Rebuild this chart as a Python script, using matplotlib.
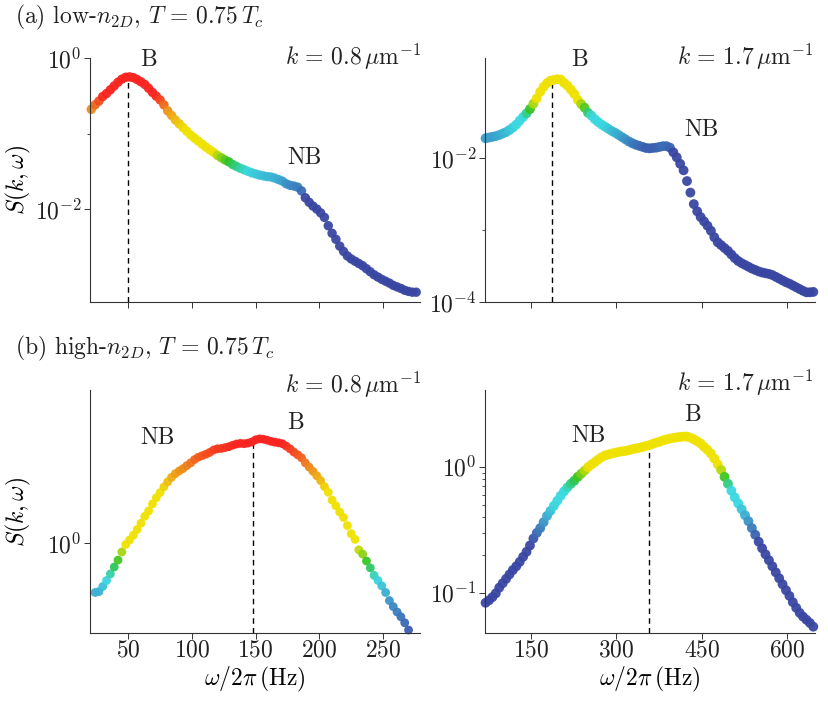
import numpy as np
import matplotlib
matplotlib.use('Agg')
import matplotlib.pyplot as plt
from matplotlib.colors import to_rgb
from matplotlib.ticker import FixedLocator, FixedFormatter, NullFormatter

plt.rcParams['font.family'] = 'serif'
plt.rcParams['font.serif'] = ['cmr10']
plt.rcParams['mathtext.fontset'] = 'cm'
plt.rcParams['axes.formatter.use_mathtext'] = True

# (a) low density, k = 0.8 um^-1 : frequency (Hz), log10 S(k, w)
A1_FREQ = [21, 24, 27, 30, 33, 36, 39, 42, 45, 48, 51, 54, 57, 60, 63, 66, 69, 72, 75, 78,
           81, 84, 87, 90, 93, 96, 99, 102, 105, 108, 111, 114, 117, 120, 123, 126, 129, 132,
           135, 138, 141, 144, 147, 150, 153, 156, 159, 162, 165, 168, 171, 174, 177, 180,
           183, 186, 189, 192, 195, 198, 201, 204, 207, 210, 213, 216, 219, 222, 225, 228,
           231, 234, 237, 240, 243, 246, 249, 252, 255, 258, 261, 264, 267, 270, 273, 276]
A1_LOGS = [-0.68, -0.62, -0.57, -0.51, -0.47, -0.42, -0.37, -0.32, -0.28, -0.255, -0.25,
           -0.26, -0.285, -0.315, -0.35, -0.40, -0.455, -0.505, -0.555, -0.62, -0.70, -0.76,
           -0.82, -0.87, -0.92, -0.97, -1.02, -1.06, -1.10, -1.14, -1.18, -1.215, -1.25,
           -1.29, -1.32, -1.35, -1.375, -1.41, -1.435, -1.46, -1.48, -1.50, -1.52, -1.535,
           -1.55, -1.56, -1.57, -1.575, -1.59, -1.61, -1.63, -1.665, -1.685, -1.695, -1.71,
           -1.76, -1.85, -1.91, -1.96, -2.00, -2.05, -2.11, -2.22, -2.32, -2.40, -2.49, -2.56,
           -2.62, -2.66, -2.69, -2.72, -2.75, -2.79, -2.83, -2.87, -2.90, -2.93, -2.955,
           -2.98, -3.01, -3.03, -3.05, -3.075, -3.09, -3.10, -3.10]

# (a) low density, k = 1.7 um^-1
A2_FREQ = [70, 76, 82, 88, 94, 100, 106, 112, 118, 124, 130, 136, 142, 148, 154, 160, 166,
           172, 178, 184, 190, 196, 202, 208, 214, 220, 226, 232, 238, 244, 250, 256, 262,
           268, 274, 280, 286, 292, 298, 304, 310, 316, 322, 328, 334, 340, 346, 352, 358,
           364, 370, 376, 382, 388, 394, 400, 406, 412, 418, 424, 430, 436, 442, 448, 454,
           460, 466, 472, 478, 484, 490, 496, 502, 508, 514, 520, 526, 532, 538, 544, 550,
           556, 562, 568, 574, 580, 586, 592, 598, 604, 610, 616, 622, 628, 634, 640, 646]
A2_LOGS = [-1.725, -1.715, -1.705, -1.695, -1.68, -1.66, -1.64, -1.61, -1.575, -1.535,
           -1.48, -1.43, -1.38, -1.32, -1.245, -1.17, -1.08, -1.01, -0.96, -0.925, -0.915,
           -0.905, -0.91, -0.955, -0.995, -1.05, -1.11, -1.19, -1.25, -1.30, -1.37, -1.41,
           -1.46, -1.50, -1.535, -1.565, -1.595, -1.625, -1.65, -1.68, -1.71, -1.74, -1.77,
           -1.795, -1.815, -1.83, -1.845, -1.86, -1.865, -1.86, -1.855, -1.845, -1.835,
           -1.835, -1.855, -1.92, -1.99, -2.08, -2.17, -2.32, -2.48, -2.64, -2.74, -2.82,
           -2.88, -2.94, -3.01, -3.10, -3.17, -3.21, -3.25, -3.29, -3.34, -3.39, -3.43,
           -3.46, -3.485, -3.51, -3.535, -3.555, -3.575, -3.59, -3.60, -3.61, -3.625, -3.65,
           -3.675, -3.70, -3.725, -3.745, -3.77, -3.795, -3.82, -3.845, -3.865, -3.865, -3.86]

# (b) high density, k = 0.8 um^-1
B1_FREQ = [24, 27, 30, 33, 36, 39, 42, 45, 48, 51, 54, 57, 60, 63, 66, 69, 72, 75, 78, 81,
           84, 87, 90, 93, 96, 99, 102, 105, 108, 111, 114, 117, 120, 123, 126, 129, 132,
           135, 138, 141, 144, 147, 150, 153, 156, 159, 162, 165, 168, 171, 174, 177, 180,
           183, 186, 189, 192, 195, 198, 201, 204, 207, 210, 213, 216, 219, 222, 225, 228,
           231, 234, 237, 240, 243, 246, 249, 252, 255, 258, 261, 264, 267, 270]
B1_LOGS = [-0.165, -0.162, -0.145, -0.125, -0.103, -0.08, -0.057, -0.03, -0.005, 0.01,
           0.026, 0.045, 0.066, 0.089, 0.107, 0.13, 0.151, 0.168, 0.187, 0.204, 0.219, 0.231,
           0.24, 0.248, 0.258, 0.267, 0.278, 0.286, 0.291, 0.296, 0.302, 0.31, 0.314, 0.315,
           0.318, 0.321, 0.326, 0.33, 0.332, 0.331, 0.333, 0.337, 0.344, 0.347, 0.346, 0.343,
           0.339, 0.336, 0.334, 0.331, 0.323, 0.314, 0.303, 0.294, 0.284, 0.267, 0.253,
           0.239, 0.224, 0.208, 0.188, 0.169, 0.143, 0.124, 0.103, 0.085, 0.058, 0.031,
           0.012, -0.023, -0.037, -0.06, -0.083, -0.108, -0.125, -0.143, -0.165, -0.192,
           -0.212, -0.23, -0.246, -0.266, -0.29]

# (b) high density, k = 1.7 um^-1
B2_FREQ = A2_FREQ
B2_LOGS = [-1.08, -1.06, -1.035, -1.005, -0.96, -0.925, -0.89, -0.855, -0.82, -0.79,
           -0.755, -0.715, -0.675, -0.625, -0.57, -0.525, -0.487, -0.44, -0.39, -0.35,
           -0.31, -0.27, -0.23, -0.195, -0.163, -0.135, -0.11, -0.08, -0.055, -0.03, -0.003,
           0.018, 0.037, 0.058, 0.076, 0.09, 0.098, 0.105, 0.112, 0.118, 0.123, 0.126, 0.132,
           0.14, 0.146, 0.151, 0.158, 0.165, 0.172, 0.183, 0.192, 0.2, 0.21, 0.218, 0.224,
           0.229, 0.234, 0.237, 0.24, 0.24, 0.231, 0.218, 0.203, 0.185, 0.158, 0.135, 0.105,
           0.066, 0.02, -0.025, -0.08, -0.135, -0.19, -0.243, -0.29, -0.337, -0.385, -0.432,
           -0.487, -0.54, -0.595, -0.647, -0.695, -0.742, -0.79, -0.838, -0.885, -0.933,
           -0.98, -1.025, -1.075, -1.12, -1.16, -1.19, -1.215, -1.24, -1.27]

# Bogoliubov peak position (Hz) and log10 S where the dashed line stops
PEAK_FREQ = [50, 187, 148, 357]
PEAK_LOGS = [-0.25, -0.95, 0.337, 0.17]

DB, SB, CY, GR, YE, OR, RE = '#3a47a2', '#3a8dc5', '#3ad8e0', '#28c228', '#f0e200', '#ee8a1c', '#f82420'

# colour scale of every panel: (log10 S, colour)
STOPS = [
    [(-1.85, DB), (-1.68, SB), (-1.5, CY), (-1.38, GR), (-1.25, YE), (-0.95, YE), (-0.68, OR), (-0.5, RE)],
    [(-1.92, DB), (-1.76, SB), (-1.55, CY), (-1.42, CY), (-1.33, GR), (-1.2, YE)],
    [(-0.33, DB), (-0.2, SB), (-0.12, CY), (-0.065, GR), (-0.01, YE), (0.17, YE), (0.25, OR), (0.33, RE)],
    [(-0.6, DB), (-0.45, SB), (-0.3, CY), (-0.18, CY), (-0.09, GR), (0.0, YE)],
]
MARKER = [46, 50, 40, 50]


def point_colors(logs, stops):
    levels = [s[0] for s in stops]
    rgb = np.array([to_rgb(s[1]) for s in stops])
    out = np.empty((len(logs), 3))
    for i in range(3):
        out[:, i] = np.interp(logs, levels, rgb[:, i])
    return out


W, H = 829, 702
fig = plt.figure(figsize=(W / 100, H / 100), dpi=100)


def add_axes(x0, y0, x1, y1):
    return fig.add_axes([x0 / W, 1 - y1 / H, (x1 - x0) / W, (y1 - y0) / H])


axes = [add_axes(90, 58, 420, 302), add_axes(485, 58, 815, 302),
        add_axes(90, 390, 420, 633), add_axes(485, 390, 815, 633)]
freqs = [A1_FREQ, A2_FREQ, B1_FREQ, B2_FREQ]
logs = [A1_LOGS, A2_LOGS, B1_LOGS, B2_LOGS]
ylims = [(-3.23, 0.0), (-4.0, -0.61), (-0.30, 0.51), (-1.32, 0.61)]
major = [[1e-2, 1e0], [1e-4, 1e-2], [1e0], [1e-1, 1e0]]
major_lab = [[r'$10^{-2}$', r'$10^{0}$'], [r'$10^{-4}$', r'$10^{-2}$'], [r'$10^{0}$'],
             [r'$10^{-1}$', r'$10^{0}$']]
minor = [[1e-1], [1e-3], [], [0.2, 0.3, 0.4, 0.5, 0.6, 0.7, 0.8, 0.9]]

FS = 17
for n, ax in enumerate(axes):
    f = np.array(freqs[n])
    s = 10.0 ** np.array(logs[n])
    ax.set_yscale('log')
    ax.vlines(PEAK_FREQ[n], 10 ** ylims[n][0], 10 ** PEAK_LOGS[n], colors='k',
              linestyles=(0, (4, 3)), linewidth=1.0, zorder=1)
    ax.scatter(f, s, s=MARKER[n], c=point_colors(logs[n], STOPS[n]), edgecolors='none',
               alpha=0.95, zorder=2, clip_on=False)
    ax.set_ylim(10 ** ylims[n][0], 10 ** ylims[n][1])
    ax.yaxis.set_major_locator(FixedLocator(major[n]))
    ax.yaxis.set_major_formatter(FixedFormatter(major_lab[n]))
    ax.yaxis.set_minor_locator(FixedLocator(minor[n]))
    ax.yaxis.set_minor_formatter(NullFormatter())
    if n % 2 == 0:
        ax.set_xlim(20, 279)
        ax.set_xticks([50, 100, 150, 200, 250])
    else:
        ax.set_xlim(69, 649)
        ax.set_xticks([150, 300, 450, 600])
    if n < 2:
        ax.set_xticklabels([])
    else:
        ax.set_xlabel(r'$\omega/2\pi\,(\mathrm{Hz})$', fontsize=FS)
        ax.xaxis.set_label_coords(0.5, -0.13)
    if n % 2 == 0:
        ax.set_ylabel(r'$S(k,\omega)$', fontsize=FS)
        ax.yaxis.set_label_coords(-0.173, 0.5)
    for side in ['top', 'right']:
        ax.spines[side].set_visible(False)
    for side in ['left', 'bottom']:
        ax.spines[side].set_color('#333333')
        ax.spines[side].set_linewidth(0.8)
    ax.tick_params(which='major', direction='out', length=4.5, width=0.7, colors='#333333',
                   labelcolor='#222222', labelsize=FS)
    ax.tick_params(which='minor', direction='out', length=2.2, width=0.6, colors='#333333')
    ax.tick_params(axis='y', which='major', pad=1.5)
    ax.tick_params(axis='x', which='major', pad=0)


def label(x, y, txt, ha='center'):
    fig.text(x / W, 1 - y / H, txt, ha=ha, va='center', fontsize=FS, color='#222222')


label(15, 17, r'(a) low-$n_{2D}$, $T \,=\, 0.75\,T_c$', ha='left')
label(15, 348, r'(b) high-$n_{2D}$, $T \,=\, 0.75\,T_c$', ha='left')
label(421, 57, r'$k \,=\, 0.8\,\mu\mathrm{m}^{-1}$', ha='right')
label(813, 57, r'$k \,=\, 1.7\,\mu\mathrm{m}^{-1}$', ha='right')
label(421, 385, r'$k \,=\, 0.8\,\mu\mathrm{m}^{-1}$', ha='right')
label(813, 383, r'$k \,=\, 1.7\,\mu\mathrm{m}^{-1}$', ha='right')
label(149, 60, 'B')
label(305, 158, 'NB')
label(580, 60, 'B')
label(702, 130, 'NB')
label(296, 423, 'B')
label(158, 438, 'NB')
label(693, 415, 'B')
label(588, 436, 'NB')

fig.savefig('out.png', dpi=100)
